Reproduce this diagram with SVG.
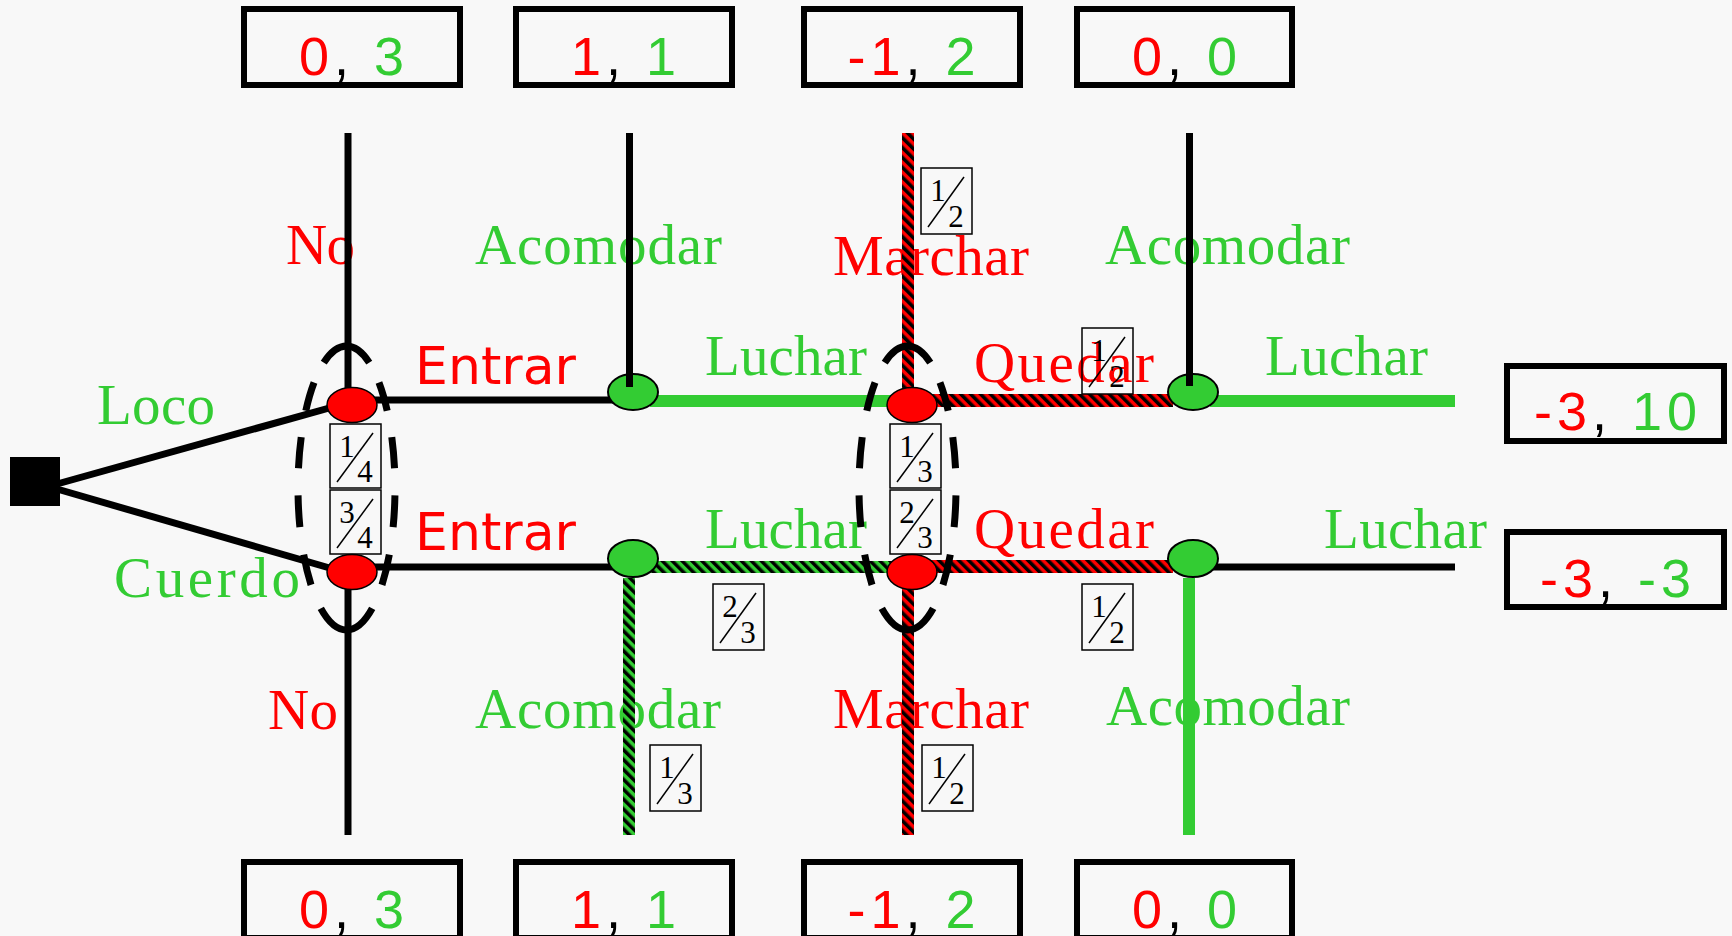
<svg xmlns="http://www.w3.org/2000/svg" xmlns:xlink="http://www.w3.org/1999/xlink" width="1732" height="936" viewBox="0 0 1732 936">
<style>
.lbl{font-family:"Liberation Serif","Times New Roman",serif;font-size:57px}
.sans{font-family:"DejaVu Sans",Verdana,sans-serif;font-size:52px}
.r{fill:#FF0000}
.g{fill:#33CC33}
.k{fill:#000}
.pay rect{fill:none;stroke:#000;stroke-width:6}
.pay text{font-family:"Liberation Sans",Arial,sans-serif;font-size:54px;letter-spacing:5px;text-anchor:middle}
.frac rect{fill:none;stroke:#000;stroke-width:1.5}
.frac line{stroke:#000;stroke-width:1.5}
.frac text{font-family:"Liberation Serif","Times New Roman",serif;font-size:31px;text-anchor:middle;fill:#000}
.blk{stroke:#000;stroke-width:7;fill:none}
.dec{fill:#FF0000;stroke:#000;stroke-width:1.5}
.gnode{fill:#33CC33;stroke:#000;stroke-width:2}
.info{fill:none;stroke:#000;stroke-width:7}
</style>
<defs>
<pattern id="hatchR" width="7" height="7" patternUnits="userSpaceOnUse" patternTransform="rotate(-45)">
<rect width="7" height="7" fill="#FF0000"/><rect width="3.5" height="7" fill="#000"/>
</pattern>
<pattern id="hatchG" width="7" height="7" patternUnits="userSpaceOnUse" patternTransform="rotate(-45)">
<rect width="7" height="7" fill="#33CC33"/><rect width="3.5" height="7" fill="#000"/>
</pattern>
<path id="infoset" d="M323.73,362.63 A48.5,142 0 0 1 369.27,362.63 M378.95,382.48 A48.5,142 0 0 1 387.18,410.67 M391.78,437.11 A48.5,142 0 0 1 394.53,468.23 M394.93,495.43 A48.5,142 0 0 1 393.12,527.14 M389.32,554.67 A48.5,142 0 0 1 381.97,584.84 M372.2,608.42 A48.5,142 0 0 1 320.8,608.42 M311.03,584.84 A48.5,142 0 0 1 303.68,554.67 M299.88,527.14 A48.5,142 0 0 1 298.07,495.43 M298.47,468.23 A48.5,142 0 0 1 301.22,437.11 M305.82,410.67 A48.5,142 0 0 1 314.05,382.48"/>
</defs>
<rect width="1732" height="936" fill="#F8F8F8"/>

<g id="labels">
<text class="lbl r" x="286" y="264" textLength="69">No</text>
<text class="lbl g" x="475" y="264" textLength="247">Acomodar</text>
<text class="lbl r" x="833" y="275" textLength="196">Marchar</text>
<text class="lbl g" x="1105" y="264" textLength="245">Acomodar</text>
<text class="sans r" x="415" y="384" textLength="161">Entrar</text>
<text class="lbl g" x="705" y="375" textLength="162">Luchar</text>
<text class="lbl r" x="974" y="382" textLength="180">Quedar</text>
<text class="lbl g" x="1265" y="375" textLength="163">Luchar</text>
<text class="lbl g" x="97" y="424" textLength="118">Loco</text>
<text class="lbl g" x="114" y="597" textLength="186">Cuerdo</text>
<text class="sans r" x="415" y="550" textLength="161">Entrar</text>
<text class="lbl g" x="705" y="548" textLength="162">Luchar</text>
<text class="lbl r" x="974" y="548" textLength="180">Quedar</text>
<text class="lbl g" x="1324" y="548" textLength="163">Luchar</text>
<text class="lbl r" x="268" y="729" textLength="70">No</text>
<text class="lbl g" x="475" y="728" textLength="246">Acomodar</text>
<text class="lbl r" x="833" y="728" textLength="196">Marchar</text>
<text class="lbl g" x="1106" y="725" textLength="244">Acomodar</text>
</g>

<g id="connectors">
<line class="blk" x1="57" y1="484" x2="340" y2="405" stroke-width="7.5"/>
<line class="blk" x1="57" y1="489" x2="340" y2="571" stroke-width="7.5"/>
<line class="blk" x1="348" y1="133" x2="348" y2="388"/>
<line class="blk" x1="348" y1="589" x2="348" y2="835"/>
<line class="blk" x1="370" y1="400" x2="613" y2="400"/>
<line class="blk" x1="370" y1="567" x2="613" y2="567"/>
<rect x="650" y="395" width="250" height="12" fill="#33CC33"/>
<rect x="650" y="561" width="250" height="12" fill="url(#hatchG)"/>
<rect x="623" y="578" width="12" height="257" fill="url(#hatchG)"/>
<rect x="902" y="133" width="12" height="256" fill="url(#hatchR)"/>
<rect x="902" y="588" width="12" height="247" fill="url(#hatchR)"/>
<rect x="928" y="394" width="245" height="13" fill="url(#hatchR)"/>
<rect x="928" y="560" width="245" height="13" fill="url(#hatchR)"/>
<rect x="1210" y="395" width="245" height="12" fill="#33CC33"/>
<line class="blk" x1="1210" y1="567" x2="1455" y2="567"/>
<rect x="1183" y="578" width="12" height="257" fill="#33CC33"/>
</g>

<g id="chance">
<rect x="10" y="457" width="50" height="49" fill="#000"/>
</g>
<g id="nodes-red">
<ellipse class="dec" cx="352" cy="405" rx="25" ry="17.5"/>
<ellipse class="dec" cx="352" cy="572" rx="25" ry="17.5"/>
<ellipse class="dec" cx="912" cy="405" rx="25" ry="17.5"/>
<ellipse class="dec" cx="912" cy="572" rx="25" ry="17.5"/>
</g>
<g id="nodes-green">
<ellipse class="gnode" cx="633" cy="392" rx="25" ry="18"/>
<ellipse class="gnode" cx="633" cy="558.5" rx="25" ry="18.5"/>
<ellipse class="gnode" cx="1193" cy="392" rx="25" ry="18"/>
<ellipse class="gnode" cx="1193" cy="558.5" rx="25" ry="18.5"/>
</g>
<g id="connectors-top">
<line class="blk" x1="629.5" y1="133" x2="629.5" y2="387"/>
<line class="blk" x1="1189.5" y1="133" x2="1189.5" y2="386"/>
</g>

<g id="infosets">
<use xlink:href="#infoset" href="#infoset" class="info"/>
<use xlink:href="#infoset" href="#infoset" class="info" transform="translate(561,0)"/>
</g>

<g id="probabilities" class="frac">
<g transform="translate(330,424)"><rect width="51" height="64"/><line x1="7" y1="58" x2="43" y2="9"/><text x="17" y="33">1</text><text x="35" y="58">4</text></g>
<g transform="translate(330,490)"><rect width="51" height="64"/><line x1="7" y1="58" x2="43" y2="9"/><text x="17" y="33">3</text><text x="35" y="58">4</text></g>
<g transform="translate(890,424)"><rect width="51" height="64"/><line x1="7" y1="58" x2="43" y2="9"/><text x="17" y="33">1</text><text x="35" y="58">3</text></g>
<g transform="translate(890,490)"><rect width="51" height="64"/><line x1="7" y1="58" x2="43" y2="9"/><text x="17" y="33">2</text><text x="35" y="58">3</text></g>
<g transform="translate(921,168)"><rect width="51" height="66"/><line x1="7" y1="59" x2="43" y2="9"/><text x="17" y="33">1</text><text x="35" y="59">2</text></g>
<g transform="translate(1082,328)"><rect width="51" height="66"/><line x1="7" y1="59" x2="43" y2="9"/><text x="17" y="33">1</text><text x="35" y="59">2</text></g>
<g transform="translate(1082,584)"><rect width="51" height="66"/><line x1="7" y1="59" x2="43" y2="9"/><text x="17" y="33">1</text><text x="35" y="59">2</text></g>
<g transform="translate(713,584)"><rect width="51" height="66"/><line x1="7" y1="59" x2="43" y2="9"/><text x="17" y="33">2</text><text x="35" y="59">3</text></g>
<g transform="translate(650,745)"><rect width="51" height="66"/><line x1="7" y1="59" x2="43" y2="9"/><text x="17" y="33">1</text><text x="35" y="59">3</text></g>
<g transform="translate(922,745)"><rect width="51" height="66"/><line x1="7" y1="59" x2="43" y2="9"/><text x="17" y="33">1</text><text x="35" y="59">2</text></g>
</g>

<g id="payoffs" class="pay">
<g id="pay-t1"><rect x="244" y="9" width="216" height="76"/><text x="354" y="75"><tspan class="r">0</tspan><tspan class="k">, </tspan><tspan class="g">3</tspan></text></g>
<g id="pay-t2"><rect x="516" y="9" width="216" height="76"/><text x="626" y="75"><tspan class="r">1</tspan><tspan class="k">, </tspan><tspan class="g">1</tspan></text></g>
<g id="pay-t3"><rect x="804" y="9" width="216" height="76"/><text x="914" y="75"><tspan class="r">-1</tspan><tspan class="k">, </tspan><tspan class="g">2</tspan></text></g>
<g id="pay-t4"><rect x="1077" y="9" width="215" height="76"/><text x="1187" y="75"><tspan class="r">0</tspan><tspan class="k">, </tspan><tspan class="g">0</tspan></text></g>
<g id="pay-r1"><rect x="1507" y="366" width="217" height="75"/><text x="1618" y="430"><tspan class="r">-3</tspan><tspan class="k">, </tspan><tspan class="g">10</tspan></text></g>
<g id="pay-r2"><rect x="1507" y="532" width="217" height="75"/><text x="1618" y="597"><tspan class="r">-3</tspan><tspan class="k">, </tspan><tspan class="g">-3</tspan></text></g>
<g id="pay-b1"><rect x="244" y="862" width="216" height="76"/><text x="354" y="928"><tspan class="r">0</tspan><tspan class="k">, </tspan><tspan class="g">3</tspan></text></g>
<g id="pay-b2"><rect x="516" y="862" width="216" height="76"/><text x="626" y="928"><tspan class="r">1</tspan><tspan class="k">, </tspan><tspan class="g">1</tspan></text></g>
<g id="pay-b3"><rect x="804" y="862" width="216" height="76"/><text x="914" y="928"><tspan class="r">-1</tspan><tspan class="k">, </tspan><tspan class="g">2</tspan></text></g>
<g id="pay-b4"><rect x="1077" y="862" width="215" height="76"/><text x="1187" y="928"><tspan class="r">0</tspan><tspan class="k">, </tspan><tspan class="g">0</tspan></text></g>
</g>
</svg>
